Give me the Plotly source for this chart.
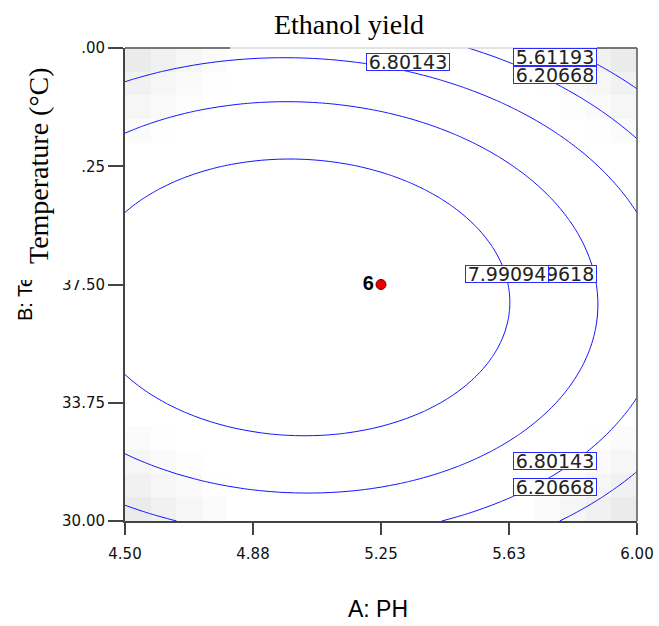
import numpy as np
import plotly.graph_objects as go

# Factor ranges in actual units
ph_range = [4.5, 6.0]
temp_range = [30.0, 45.0]

# Quadratic response-surface model for ethanol yield (coded factors A, B in [-1, 1])
# y = b0 + bA*A + bB*B + bAB*A*B + bAA*A^2 + bBB*B^2
b0 = 8.4866
bA = -0.5696
bB = -0.2175
bAB = -0.0855
bAA = -0.863
bBB = -1.739

contour_levels = [5.61193, 6.20668, 6.80143, 7.39618, 7.99094]

x_tickvals = [4.5, 4.875, 5.25, 5.625, 6.0]
x_ticktext = ["4.50", "4.88", "5.25", "5.63", "6.00"]
y_tickvals = [30.0, 33.75, 37.5, 41.25, 45.0]
y_ticktext = ["30.00", "33.75", "37.50", "41.25", "45.00"]

# Design point (centre point with its replicate count)
design_ph = [5.25]
design_temp = [37.5]
design_reps = ["6"]

# Where each contour label sits: (level index, pH, temperature)
label_spots = [
    (0, 5.760, 44.714),
    (1, 5.760, 44.144),
    (2, 5.329, 44.556),
    (3, 5.760, 37.833),
    (4, 5.619, 37.833),
    (2, 5.760, 31.903),
    (1, 5.760, 31.078),
]


def coded(v, rng):
    mid = (rng[0] + rng[1]) / 2.0
    half = (rng[1] - rng[0]) / 2.0
    return (v - mid) / half


def yield_model(ph, temp):
    a = coded(ph, ph_range)
    b = coded(temp, temp_range)
    return b0 + bA * a + bB * b + bAB * a * b + bAA * a ** 2 + bBB * b ** 2


# Response grid for contour lines
ph_grid = np.linspace(ph_range[0], ph_range[1], 61)
temp_grid = np.linspace(temp_range[0], temp_range[1], 61)
PH, TEMP = np.meshgrid(ph_grid, temp_grid)
Z = yield_model(PH, TEMP)

# Coarse design-space shading (prediction error grows toward the corners)
n_cells = 20
ph_cells = ph_range[0] + (np.arange(n_cells) + 0.5) * (ph_range[1] - ph_range[0]) / n_cells
temp_cells = temp_range[0] + (np.arange(n_cells) + 0.5) * (temp_range[1] - temp_range[0]) / n_cells
PC, TC = np.meshgrid(ph_cells, temp_cells)
shade = (coded(PC, ph_range) * coded(TC, temp_range)) ** 2

fig = go.Figure()

fig.add_trace(go.Heatmap(
    x=ph_cells, y=temp_cells, z=shade,
    zmin=0.27, zmax=0.82,
    colorscale=[[0, "#ffffff"], [1, "#ebebeb"]],
    showscale=False, hoverinfo="skip",
))

for lvl in contour_levels:
    fig.add_trace(go.Contour(
        x=ph_grid, y=temp_grid, z=Z,
        contours=dict(start=lvl, end=lvl, size=1, coloring="none"),
        line=dict(color="#1414ff", width=1),
        showscale=False, hoverinfo="skip",
    ))

fig.add_trace(go.Scatter(
    x=design_ph, y=design_temp, mode="markers+text",
    text=design_reps, textposition="middle left",
    textfont=dict(family="Liberation Sans", size=20, color="black", weight="bold"),
    marker=dict(color="#ee0000", size=10, line=dict(color="#600000", width=1)),
    showlegend=False, hoverinfo="skip",
))

annotations = []

# Y-axis caption
annotations.append(dict(
    text="B: Temperature", textangle=-90,
    xref="paper", yref="paper", x=(25 - 125) / 512, y=(521 - 253) / 473,
    xanchor="center", yanchor="middle", showarrow=False,
    font=dict(family="Liberation Sans", size=20, color="black"),
))
# Blank white panel behind the serif caption
annotations.append(dict(
    text=" ", xref="paper", yref="paper",
    x=(6 - 125) / 512, y=(521 - 40) / 473,
    xanchor="left", yanchor="top", showarrow=False,
    width=76, height=240, bgcolor="white", borderpad=0, borderwidth=0,
))
annotations.append(dict(
    text="Temperature (°C)", textangle=-90,
    xref="paper", yref="paper", x=(38 - 125) / 512, y=(521 - 166) / 473,
    xanchor="center", yanchor="middle", showarrow=False,
    font=dict(family="Liberation Serif", size=28, color="black"),
))

for idx, lx, ly in label_spots:
    annotations.append(dict(
        text=f"{contour_levels[idx]:.5f}", x=lx, y=ly, xref="x", yref="y",
        showarrow=False, xanchor="center", yanchor="middle",
        width=82, height=16, bgcolor="white",
        bordercolor="#2a2aff", borderwidth=1, borderpad=0,
        font=dict(family="DejaVu Sans", size=19, color="#222222"),
    ))

annotations.append(dict(
    text="A: PH", xref="paper", yref="paper", x=(378 - 125) / 512, y=(521 - 609) / 473,
    xanchor="center", yanchor="middle", showarrow=False,
    font=dict(family="Liberation Sans", size=23, color="black"),
))

shapes = [
    dict(type="line", xref="paper", yref="paper", x0=1, x1=1, y0=0, y1=1,
         line=dict(color="#555555", width=1.5)),
    dict(type="line", xref="paper", yref="paper", x0=0, x1=1, y0=1, y1=1,
         line=dict(color="#c8c8c8", width=1)),
    dict(type="line", xref="paper", yref="paper", x0=0, x1=(230 - 125) / 512, y0=1, y1=1,
         line=dict(color="#555555", width=1.5)),
    dict(type="line", xref="paper", yref="paper", x0=(597 - 125) / 512, x1=1, y0=1, y1=1,
         line=dict(color="#555555", width=1.5)),
]

fig.update_layout(
    template="none",
    width=659, height=626,
    margin=dict(l=125, r=22, t=48, b=105, pad=0),
    paper_bgcolor="white", plot_bgcolor="white",
    showlegend=False,
    title=dict(
        text="Ethanol yield", x=349 / 659, xref="container", xanchor="center",
        y=1 - 24 / 626, yref="container", yanchor="middle",
        font=dict(family="Liberation Serif", size=28, color="black"),
    ),
    xaxis=dict(
        range=ph_range, tickvals=x_tickvals, ticktext=x_ticktext, automargin=False,
        ticks="outside", ticklen=12, tickcolor="#444444", tickwidth=1.5,
        showline=True, linecolor="#444444", linewidth=2,
        showgrid=False, zeroline=False, ticklabelstandoff=6,
        tickfont=dict(family="DejaVu Sans", size=15, color="#111111"),
    ),
    yaxis=dict(
        range=temp_range, tickvals=y_tickvals, ticktext=y_ticktext, automargin=False,
        ticks="outside", ticklen=15, tickcolor="#444444", tickwidth=1.5,
        showline=True, linecolor="#444444", linewidth=2,
        showgrid=False, zeroline=False,
        tickfont=dict(family="DejaVu Sans", size=15, color="#111111"),
    ),
    annotations=annotations,
    shapes=shapes,
)

fig.write_html("out.html")
